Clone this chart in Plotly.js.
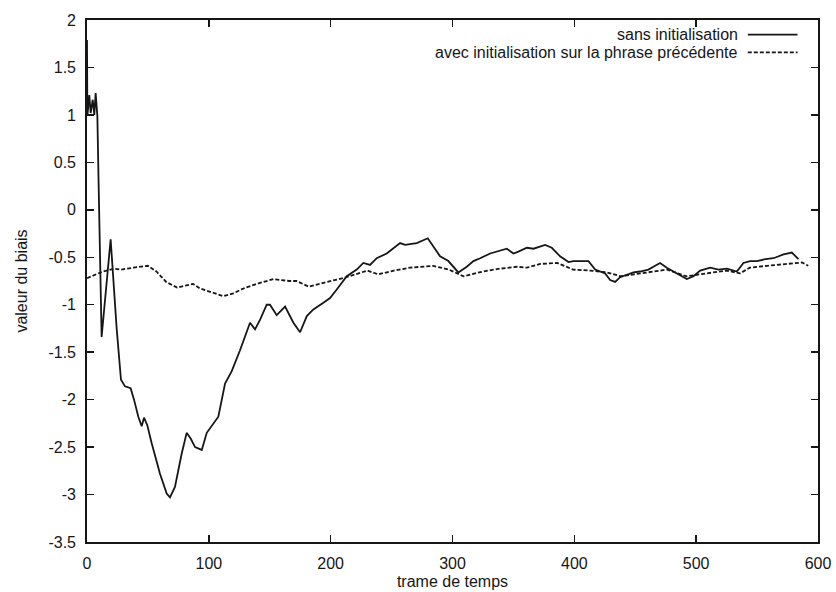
<!DOCTYPE html>
<html>
<head>
<meta charset="utf-8">
<script src="https://cdn.plot.ly/plotly-3.0.1.min.js"></script>
<style>
  html, body { margin: 0; padding: 0; background: #fff; }
  #chart { width: 836px; height: 592px; }
</style>
</head>
<body>
<div id="chart"></div>
<script>
// Bias value per time frame, without initialisation
const sansX = [0, 0.3, 1.9, 3, 4.7, 6, 7.1, 8.5, 9.5, 12, 19.4, 24.4, 27.9, 31.2, 35.8, 38.6, 42.1, 44.9, 46.8, 49.5,
  53.1, 59.9, 65.4, 68.1, 72.2, 77.7, 81.8, 85.1, 88.7, 94.2, 98.3, 102.4, 107.8, 113.3, 118.8, 125.6, 133.8, 137.9, 142, 147.5,
  150.2, 155.7, 162.6, 169.4, 174.9, 180.4, 185.8, 194, 199.5, 205, 213.2, 221.4, 226.8, 232.3, 237.8, 246, 251.5, 257, 261.1, 270.7,
  279.7, 284.3, 289.8, 296.6, 304.8, 311.7, 317.2, 322.7, 330.9, 344.6, 350, 354.1, 361, 366.5, 376, 381.5, 388.3, 395.2, 399.3, 404.8,
  411.6, 417.1, 425.3, 429.4, 433.5, 437.6, 444.4, 448.5, 454, 460.8, 464.9, 470.4, 475.9, 484.1, 492.3, 497.8, 503.3, 511.5, 518.3, 525.2,
  533.4, 538.8, 544.3, 549.8, 556.7, 563.5, 571.7, 578.5, 584];
const sansY = [1.79, 0.99, 1.21, 1.02, 1.16, 1.0, 1.23, 0.99, 0.3, -1.34, -0.31, -1.26, -1.79, -1.86, -1.88, -2.0, -2.18, -2.28, -2.19, -2.27,
  -2.46, -2.78, -2.99, -3.03, -2.92, -2.57, -2.35, -2.41, -2.50, -2.53, -2.35, -2.28, -2.18, -1.83, -1.70, -1.48, -1.19, -1.26, -1.16, -1.0,
  -1.0, -1.11, -1.02, -1.19, -1.29, -1.12, -1.05, -0.98, -0.93, -0.84, -0.70, -0.63, -0.56, -0.58, -0.51, -0.46, -0.40, -0.35, -0.37, -0.35,
  -0.30, -0.39, -0.49, -0.54, -0.66, -0.60, -0.54, -0.51, -0.46, -0.41, -0.46, -0.44, -0.40, -0.41, -0.37, -0.40, -0.49, -0.55, -0.54, -0.54,
  -0.54, -0.63, -0.67, -0.74, -0.76, -0.71, -0.68, -0.66, -0.65, -0.63, -0.60, -0.56, -0.61, -0.67, -0.73, -0.70, -0.64, -0.61, -0.63, -0.62,
  -0.65, -0.56, -0.54, -0.54, -0.52, -0.51, -0.47, -0.45, -0.52];

// Bias value per time frame, initialised on the previous sentence
const avecX = [0, 13, 22, 28, 38, 50, 57, 65, 74, 80, 87, 93, 102, 112, 120, 130, 142, 153, 166, 172,
  182, 190, 197, 213, 230, 239, 252, 265, 284, 297, 309, 325, 339, 353, 361, 372, 386, 399, 413, 427,
  438, 449, 465, 476, 492, 509, 525, 536, 544, 558, 574, 587, 592];
const avecY = [-0.72, -0.65, -0.62, -0.63, -0.61, -0.59, -0.65, -0.76, -0.82, -0.80, -0.78, -0.83, -0.87, -0.91, -0.88, -0.82, -0.77, -0.73, -0.75, -0.75,
  -0.81, -0.78, -0.76, -0.71, -0.64, -0.68, -0.64, -0.61, -0.59, -0.63, -0.70, -0.65, -0.62, -0.60, -0.61, -0.57, -0.56, -0.63, -0.64, -0.66,
  -0.70, -0.68, -0.65, -0.63, -0.70, -0.67, -0.64, -0.67, -0.61, -0.59, -0.57, -0.555, -0.59];

const seriesNames = ['sans initialisation', 'avec initialisation sur la phrase précédente'];
const yTickVals = [-3.5, -3, -2.5, -2, -1.5, -1, -0.5, 0, 0.5, 1, 1.5, 2];
const yTickText = ['-3.5', '-3', '-2.5', '-2', '-1.5', '-1', '-0.5', '0', '0.5', '1', '1.5', '2'];
const xTickVals = [0, 100, 200, 300, 400, 500, 600];

const ink = '#161616';
const font = { family: 'Liberation Sans, Arial, sans-serif', size: 16, color: ink };

const traces = [
  { x: sansX, y: sansY, name: seriesNames[0], type: 'scatter', mode: 'lines',
    line: { color: ink, width: 1.8 } },
  { x: avecX, y: avecY, name: seriesNames[1], type: 'scatter', mode: 'lines',
    line: { color: ink, width: 1.8, dash: '4px,2px' } }
];

const axisCommon = {
  showgrid: false, zeroline: false, showline: true, linecolor: ink, linewidth: 1.8,
  mirror: 'ticks', ticks: 'inside', ticklen: 7, tickwidth: 1.5, tickcolor: ink,
  tickfont: font
};

// gnuplot-style key: label right-aligned, sample line to its right
const keyTextX = 0.893, keySampleX0 = 0.904, keySampleX1 = 0.972;
const keyRows = [0.972, 0.938];

const layout = {
  width: 836, height: 592,
  margin: { l: 87, r: 18, t: 20, b: 50 },
  paper_bgcolor: '#fff', plot_bgcolor: '#fff',
  showlegend: false,
  font: font,
  xaxis: Object.assign({}, axisCommon, {
    range: [0, 600], tickvals: xTickVals, ticklabelstandoff: 6,
    title: { text: 'trame de temps', font: font, standoff: 5 }
  }),
  yaxis: Object.assign({}, axisCommon, {
    range: [-3.5, 2], tickvals: yTickVals, ticktext: yTickText, ticklabelstandoff: 6,
    title: { text: 'valeur du biais', font: font, standoff: 17 }
  }),
  annotations: seriesNames.map((t, i) => ({
    text: t, xref: 'paper', yref: 'paper', x: keyTextX, y: keyRows[i],
    xanchor: 'right', yanchor: 'middle', showarrow: false, font: font
  })),
  shapes: keyRows.map((yy, i) => ({
    type: 'line', xref: 'paper', yref: 'paper', x0: keySampleX0, x1: keySampleX1, y0: yy, y1: yy,
    line: { color: ink, width: 1.6, dash: i === 0 ? 'solid' : '4px,2px' }
  }))
};

Plotly.newPlot('chart', traces, layout, { staticPlot: true, displayModeBar: false });
</script>
</body>
</html>
